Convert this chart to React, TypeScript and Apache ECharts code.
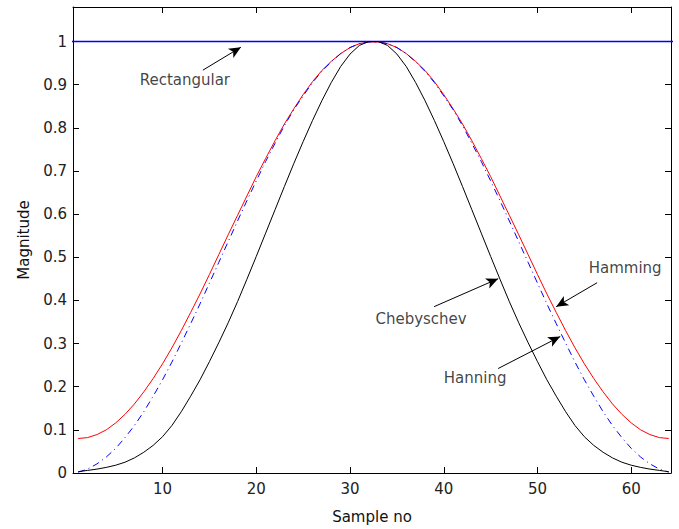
import React, { useEffect, useRef } from "react";
import * as echarts from "echarts";

// Sample numbers (x) for the window curves
const sampleNo = [
  1, 2, 3, 4, 5, 6, 7, 8, 9, 10, 11, 12, 13, 14, 15, 16,
  17, 18, 19, 20, 21, 22, 23, 24, 25, 26, 27, 28, 29, 30, 31, 32,
  33, 34, 35, 36, 37, 38, 39, 40, 41, 42, 43, 44, 45, 46, 47, 48,
  49, 50, 51, 52, 53, 54, 55, 56, 57, 58, 59, 60, 61, 62, 63, 64,
];

// Rectangular window (drawn across the whole axis)
const rectX = [0, 65];
const rectY = [1, 1];

const hamming = [
  0.080, 0.082, 0.089, 0.100, 0.116, 0.136, 0.160, 0.188, 0.219, 0.253, 0.290, 0.330, 0.372, 0.415, 0.460, 0.506,
  0.552, 0.597, 0.642, 0.687, 0.729, 0.770, 0.809, 0.844, 0.877, 0.907, 0.933, 0.954, 0.972, 0.986, 0.995, 0.999,
  0.999, 0.995, 0.986, 0.972, 0.954, 0.933, 0.907, 0.877, 0.844, 0.809, 0.770, 0.729, 0.687, 0.642, 0.597, 0.552,
  0.506, 0.460, 0.415, 0.372, 0.330, 0.290, 0.253, 0.219, 0.188, 0.160, 0.136, 0.116, 0.100, 0.089, 0.082, 0.080,
];

const hanning = [
  0.002, 0.009, 0.021, 0.037, 0.057, 0.082, 0.110, 0.142, 0.178, 0.216, 0.257, 0.301, 0.346, 0.392, 0.440, 0.488,
  0.536, 0.584, 0.631, 0.677, 0.722, 0.764, 0.805, 0.842, 0.874, 0.905, 0.931, 0.953, 0.972, 0.986, 0.995, 0.999,
  0.999, 0.995, 0.986, 0.972, 0.953, 0.931, 0.905, 0.874, 0.842, 0.805, 0.764, 0.722, 0.677, 0.631, 0.584, 0.536,
  0.488, 0.440, 0.392, 0.346, 0.301, 0.257, 0.216, 0.178, 0.142, 0.110, 0.082, 0.057, 0.037, 0.021, 0.009, 0.002,
];

const chebyschev = [
  0.003, 0.006, 0.009, 0.013, 0.018, 0.025, 0.035, 0.048, 0.064, 0.084, 0.110, 0.142, 0.178, 0.216, 0.258, 0.302,
  0.348, 0.397, 0.449, 0.502, 0.556, 0.610, 0.664, 0.717, 0.768, 0.817, 0.863, 0.905, 0.942, 0.971, 0.991, 1.000,
  1.000, 0.991, 0.971, 0.942, 0.905, 0.863, 0.817, 0.768, 0.717, 0.664, 0.610, 0.556, 0.502, 0.449, 0.397, 0.348,
  0.302, 0.258, 0.216, 0.178, 0.142, 0.110, 0.084, 0.064, 0.048, 0.035, 0.025, 0.018, 0.013, 0.009, 0.006, 0.003,
];

const xTicks = [10, 20, 30, 40, 50, 60];
const yTicks = [0, 0.1, 0.2, 0.3, 0.4, 0.5, 0.6, 0.7, 0.8, 0.9, 1];

// Annotation labels (data coordinates)
const annotationNames = ["Rectangular", "Chebyschev", "Hamming", "Hanning"];
const annotationText = [
  [12.38, 0.9105],
  [37.58, 0.3578],
  [59.35, 0.4757],
  [43.34, 0.2213],
];
const arrowTail = [
  [14.3, 0.9336],
  [38.97, 0.3855],
  [56.36, 0.441],
  [45.8, 0.2421],
];
const arrowHead = [
  [18.36, 0.9868],
  [45.8, 0.4503],
  [51.99, 0.3855],
  [52.42, 0.3161],
];

const FONT = "DejaVu Sans";

export default function App() {
  const ref = useRef<HTMLDivElement>(null);

  useEffect(() => {
    if (!ref.current) return;
    const chart = echarts.init(ref.current, null, { renderer: "svg" });
    const pair = (ys: number[]) => sampleNo.map((x, i) => [x, ys[i]]);

    const axisCommon = {
      type: "value" as const,
      axisLine: { show: true, onZero: false, lineStyle: { color: "#000", width: 1 } },
      splitLine: { show: false },
    };

    const xMin = 0.45;
    const xMax = 64.24;
    const yMin = 0;
    const yMax = 1.08;

    chart.setOption({
      animation: false,
      backgroundColor: "#fff",
      grid: { left: 73, right: 8, top: 7, bottom: 55, containLabel: false },
      xAxis: [
        {
          ...axisCommon,
          position: "bottom",
          min: xMin,
          max: xMax,
          name: "Sample no",
          nameLocation: "middle",
          nameGap: 36,
          nameTextStyle: { fontFamily: FONT, fontSize: 15, color: "#111" },
          axisTick: { show: true, inside: true, length: 6, customValues: xTicks, lineStyle: { color: "#000" } },
          axisLabel: {
            show: true,
            customValues: xTicks,
            margin: 8,
            fontFamily: FONT,
            fontSize: 15,
            color: "#222",
            formatter: (v: number) => String(Math.round(v)),
          },
        },
        {
          ...axisCommon,
          position: "top",
          min: xMin,
          max: xMax,
          axisTick: { show: true, inside: true, length: 6, customValues: xTicks, lineStyle: { color: "#000" } },
          axisLabel: { show: false },
        },
      ],
      yAxis: [
        {
          ...axisCommon,
          position: "left",
          min: yMin,
          max: yMax,
          name: "Magnitude",
          nameLocation: "middle",
          nameGap: 42,
          nameRotate: 90,
          nameTextStyle: { fontFamily: FONT, fontSize: 15, color: "#111" },
          axisTick: { show: true, inside: true, length: 6, customValues: yTicks, lineStyle: { color: "#000" } },
          axisLabel: {
            show: true,
            customValues: yTicks,
            margin: 6,
            fontFamily: FONT,
            fontSize: 15,
            color: "#222",
            formatter: (v: number) => String(Math.round(v * 10) / 10),
          },
        },
        {
          ...axisCommon,
          position: "right",
          min: yMin,
          max: yMax,
          axisTick: { show: true, inside: true, length: 6, customValues: yTicks, lineStyle: { color: "#000" } },
          axisLabel: { show: false },
        },
      ],
      series: [
        {
          name: "Rectangular",
          type: "line",
          data: rectX.map((x, i) => [x, rectY[i]]),
          showSymbol: false,
          symbol: "none",
          lineStyle: { color: "#0000ff", width: 1.3 },
          clip: true,
          z: 2,
        },
        {
          name: "Hamming",
          type: "line",
          data: pair(hamming),
          showSymbol: false,
          symbol: "none",
          lineStyle: { color: "#ff0000", width: 1 },
          clip: true,
          z: 3,
        },
        {
          name: "Hanning",
          type: "line",
          data: pair(hanning),
          showSymbol: false,
          symbol: "none",
          lineStyle: { color: "#0000ff", width: 1, type: [7, 4, 1, 4] },
          clip: true,
          z: 4,
        },
        {
          name: "Chebyschev",
          type: "line",
          data: pair(chebyschev),
          showSymbol: false,
          symbol: "none",
          lineStyle: { color: "#000", width: 1 },
          clip: true,
          z: 5,
          markLine: {
            silent: true,
            symbol: ["none", "arrow"],
            symbolSize: [8, 12],
            label: { show: false },
            lineStyle: { color: "#000", width: 1, type: "solid" },
            data: arrowTail.map((t, i) => [{ coord: t }, { coord: arrowHead[i] }]),
          },
        },
        {
          name: "labels",
          type: "scatter",
          symbolSize: 0,
          silent: true,
          data: annotationText.map((c, i) => ({ value: c, name: annotationNames[i] })),
          label: {
            show: true,
            position: "inside",
            formatter: (p: any) => p.name,
            fontFamily: FONT,
            fontSize: 15,
            color: "#111",
          },
          z: 6,
        },
      ],
    });

    return () => chart.dispose();
  }, []);

  return (
    <div
      ref={ref}
      style={{ position: "fixed", left: 0, top: 0, width: 679, height: 529, background: "#fff" }}
    />
  );
}
